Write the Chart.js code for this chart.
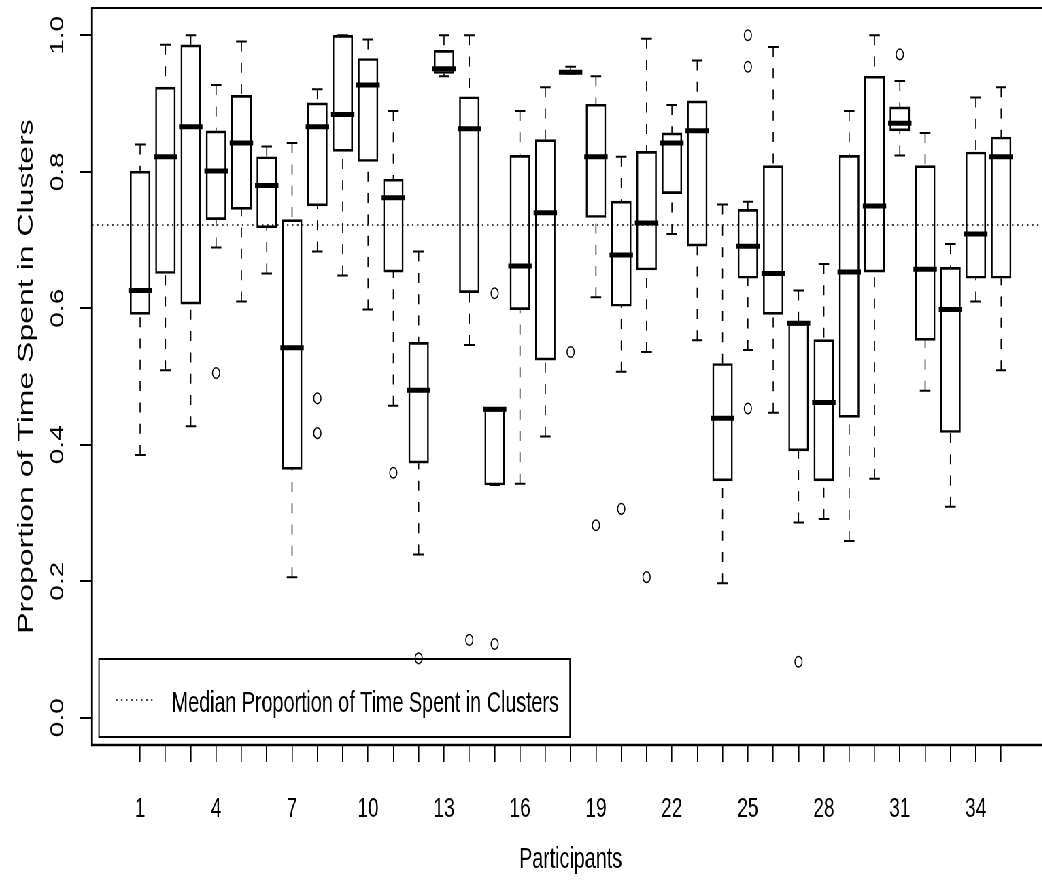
<!DOCTYPE html>
<html><head><meta charset="utf-8">
<script src="https://cdn.jsdelivr.net/npm/chart.js@4.4.1/dist/chart.umd.min.js"></script>
<style>
html,body{margin:0;padding:0;background:#fff;overflow:hidden;width:1042px;height:881px;}
#wrap{width:1544px;height:881px;position:absolute;left:0;top:0;background:#fff;transform:scaleX(0.68);transform-origin:0 0;}
canvas{display:block;}
</style></head>
<body><div id="wrap"><canvas id="c" width="1544" height="881"></canvas></div>
<script>
// ---------------- data ----------------
const participants = [1,2,3,4,5,6,7,8,9,10,11,12,13,14,15,16,17,18,19,20,21,22,23,24,25,26,27,28,29,30,31,32,33,34,35];
const xTickLabels = [1,4,7,10,13,16,19,22,25,28,31,34];
const yTicks = [0.0,0.2,0.4,0.6,0.8,1.0];

const whiskerHigh = [0.840,0.986,1.000,0.927,0.991,0.837,0.842,0.921,1.000,0.994,0.889,0.683,1.000,1.000,0.452,0.889,0.924,0.954,0.940,0.822,0.995,0.898,0.963,0.752,0.756,0.983,0.626,0.665,0.889,1.000,0.933,0.857,0.694,0.909,0.924];
const q3          = [0.801,0.924,0.986,0.860,0.912,0.822,0.730,0.901,1.000,0.966,0.789,0.550,0.978,0.910,0.452,0.824,0.847,0.948,0.899,0.757,0.830,0.857,0.904,0.519,0.745,0.809,0.578,0.554,0.824,0.940,0.895,0.809,0.660,0.829,0.851];
const median      = [0.626,0.822,0.866,0.801,0.842,0.780,0.542,0.866,0.884,0.927,0.762,0.480,0.951,0.863,0.452,0.662,0.740,0.946,0.822,0.678,0.725,0.842,0.860,0.439,0.691,0.651,0.578,0.462,0.653,0.750,0.871,0.657,0.598,0.709,0.822];
const q1          = [0.591,0.651,0.606,0.730,0.745,0.718,0.364,0.750,0.830,0.815,0.653,0.373,0.944,0.623,0.341,0.598,0.524,0.944,0.733,0.603,0.656,0.768,0.691,0.347,0.644,0.591,0.391,0.347,0.440,0.653,0.860,0.553,0.418,0.644,0.644];
const whiskerLow  = [0.385,0.509,0.427,0.689,0.610,0.651,0.206,0.683,0.648,0.598,0.457,0.239,0.940,0.546,0.341,0.343,0.412,0.944,0.616,0.507,0.536,0.709,0.553,0.197,0.539,0.447,0.286,0.291,0.259,0.350,0.824,0.479,0.309,0.610,0.509];

const outlierParticipant = [4,8,8,11,12,14,15,15,18,19,20,21,25,25,25,27,31];
const outlierValue       = [0.505,0.468,0.417,0.359,0.087,0.114,0.622,0.108,0.536,0.282,0.306,0.206,1.000,0.954,0.453,0.082,0.972];

const overallMedian = 0.722;
const legendText = 'Median Proportion of Time Spent in Clusters';
const xRange = [-0.9, 36.9];
const yRange = [-0.04, 1.04];

// ---------------- styling ----------------
// The reference picture is horizontally compressed; the chart is drawn wide and squeezed by CSS.
const K = 0.68;
const hx = v => v / K;   // horizontal style size (displayed px -> canvas px)
const SANS = "'Liberation Sans', Arial, sans-serif";
Chart.defaults.font.family = SANS;
Chart.defaults.color = '#000';

// ---------------- derived datasets ----------------
const boxData = participants.map((p,i)=>({x:p, y:[q1[i], q3[i]]}));
const medianData = participants.map((p,i)=>({x:p, y:median[i]}));
const capData = participants.flatMap((p,i)=>[{x:p,y:whiskerHigh[i]},{x:p,y:whiskerLow[i]}]);
const whiskerData = participants.flatMap((p,i)=>[
  {x:p,y:whiskerHigh[i]},{x:p,y:q3[i]},{x:p,y:null},
  {x:p,y:whiskerLow[i]},{x:p,y:q1[i]},{x:p,y:null}]);
const outlierData = outlierParticipant.map((p,i)=>({x:p, y:outlierValue[i]}));
const refData = [{x:xRange[0], y:overallMedian},{x:xRange[1], y:overallMedian}];

const framePlugin = {
  id: 'frameAndLegend',
  afterDraw(chart){
    const {ctx, chartArea:a} = chart;
    ctx.save();
    ctx.strokeStyle = '#000';
    ctx.setLineDash([]);
    // frame (right side lies outside the visible window)
    ctx.lineWidth = 2;
    ctx.beginPath(); ctx.moveTo(a.left, a.top); ctx.lineTo(a.right+3, a.top); ctx.stroke();
    ctx.lineWidth = 2.4;
    ctx.beginPath(); ctx.moveTo(a.left, a.bottom); ctx.lineTo(a.right+3, a.bottom); ctx.stroke();
    ctx.lineWidth = hx(1.9);
    ctx.beginPath(); ctx.moveTo(a.left, a.top-1); ctx.lineTo(a.left, a.bottom+1.2); ctx.stroke();
    // legend box
    const lx = a.left + hx(7), ly = a.bottom - 86, lw = hx(471), lh = 78;
    ctx.lineWidth = 2;
    ctx.beginPath(); ctx.moveTo(lx, ly); ctx.lineTo(lx+lw, ly); ctx.moveTo(lx, ly+lh); ctx.lineTo(lx+lw, ly+lh); ctx.stroke();
    ctx.lineWidth = hx(1.3);
    ctx.beginPath(); ctx.moveTo(lx, ly-1); ctx.lineTo(lx, ly+lh+1); ctx.moveTo(lx+lw, ly-1); ctx.lineTo(lx+lw, ly+lh+1); ctx.stroke();
    // legend sample (dotted)
    ctx.lineWidth = 1.3; ctx.setLineDash([hx(1.5), hx(3.5)]);
    ctx.beginPath(); ctx.moveTo(lx+hx(17), ly+41); ctx.lineTo(lx+hx(55), ly+41); ctx.stroke();
    ctx.setLineDash([]);
    ctx.fillStyle = '#000';
    ctx.font = '29px ' + SANS;
    ctx.textBaseline = 'alphabetic'; ctx.textAlign = 'left';
    ctx.fillText(legendText, lx + hx(72.7), ly + 52.7);
    ctx.restore();
  }
};

new Chart(document.getElementById('c'), {
  type: 'bar',
  data: {
    datasets: [
      { type:'scatter', label:'median', data: medianData, pointStyle:'line', pointRadius:hx(11.7), pointHoverRadius:hx(11.7), pointBorderWidth:5, pointBorderColor:'#000', pointBackgroundColor:'#000' },
      { type:'scatter', label:'caps', data: capData, pointStyle:'line', pointRadius:hx(5.3), pointHoverRadius:hx(5.3), pointBorderWidth:2, pointBorderColor:'#000' },
      { type:'bar', label:'box', data: boxData, backgroundColor:'rgba(255,255,255,0)', borderColor:'#000', borderWidth:{top:2,bottom:2,left:hx(1.3),right:hx(1.3)}, borderSkipped:false, barThickness:hx(20) },
      { type:'line', label:'whiskers', data: whiskerData, borderColor:'#000', borderWidth:hx(1.1), borderDash:[10,11.3], pointRadius:0, spanGaps:false, tension:0, fill:false },
      { type:'scatter', label:'outliers', data: outlierData, pointStyle:'circle', pointRadius:5.3, pointHoverRadius:5.3, pointBorderWidth:1.5, pointBorderColor:'#000', pointBackgroundColor:'rgba(0,0,0,0)', clip:false },
      { type:'line', label: legendText, data: refData, borderColor:'#000', borderWidth:1.3, borderDash:[hx(1.5),hx(3.5)], pointRadius:0, fill:false }
    ]
  },
  options: {
    responsive:false, animation:false, events:[], devicePixelRatio:1,
    layout:{ autoPadding:false, padding:{top:8, right:1, bottom:0, left:0} },
    plugins:{ legend:{display:false}, tooltip:{enabled:false} },
    scales:{
      x:{
        type:'linear', min:xRange[0], max:xRange[1], offset:false, bounds:'data',
        afterBuildTicks: s => { s.ticks = participants.map(v=>({value:v})); },
        afterFit: s => { s.height = 136; s.paddingLeft = 0; s.paddingRight = 0; },
        grid:{ drawOnChartArea:false, drawTicks:true, tickLength:17, color:'#000', lineWidth:hx(1.1), offset:false },
        border:{ display:false },
        ticks:{ autoSkip:false, maxRotation:0, minRotation:0, padding:30.5, color:'#000',
          font:{ family:SANS, size:28 },
          callback: v => xTickLabels.includes(v) ? String(v) : '' },
        title:{ display:true, text:'Participants', color:'#000', font:{ family:SANS, size:29 }, padding:{top:0, bottom:3.6} }
      },
      y:{
        type:'linear', min:yRange[0], max:yRange[1], bounds:'data',
        afterBuildTicks: s => { s.ticks = yTicks.map(v=>({value:v})); },
        afterFit: s => { s.width = hx(92); s.paddingTop = 0; s.paddingBottom = 0; },
        grid:{ drawOnChartArea:false, drawTicks:true, tickLength:hx(12), color:'#000', lineWidth:2 },
        border:{ display:false },
        ticks:{ minRotation:90, maxRotation:90, crossAlign:'center', padding:13.2, color:'#000',
          font:{ family:SANS, size:28 },
          callback: v => v.toFixed(1) },
        title:{ display:true, text:'Proportion of Time Spent in Clusters', color:'#000', font:{ family:SANS, size:32 }, padding:{top:19.7, bottom:0} }
      }
    }
  },
  plugins:[framePlugin]
});
</script>
</body></html>
